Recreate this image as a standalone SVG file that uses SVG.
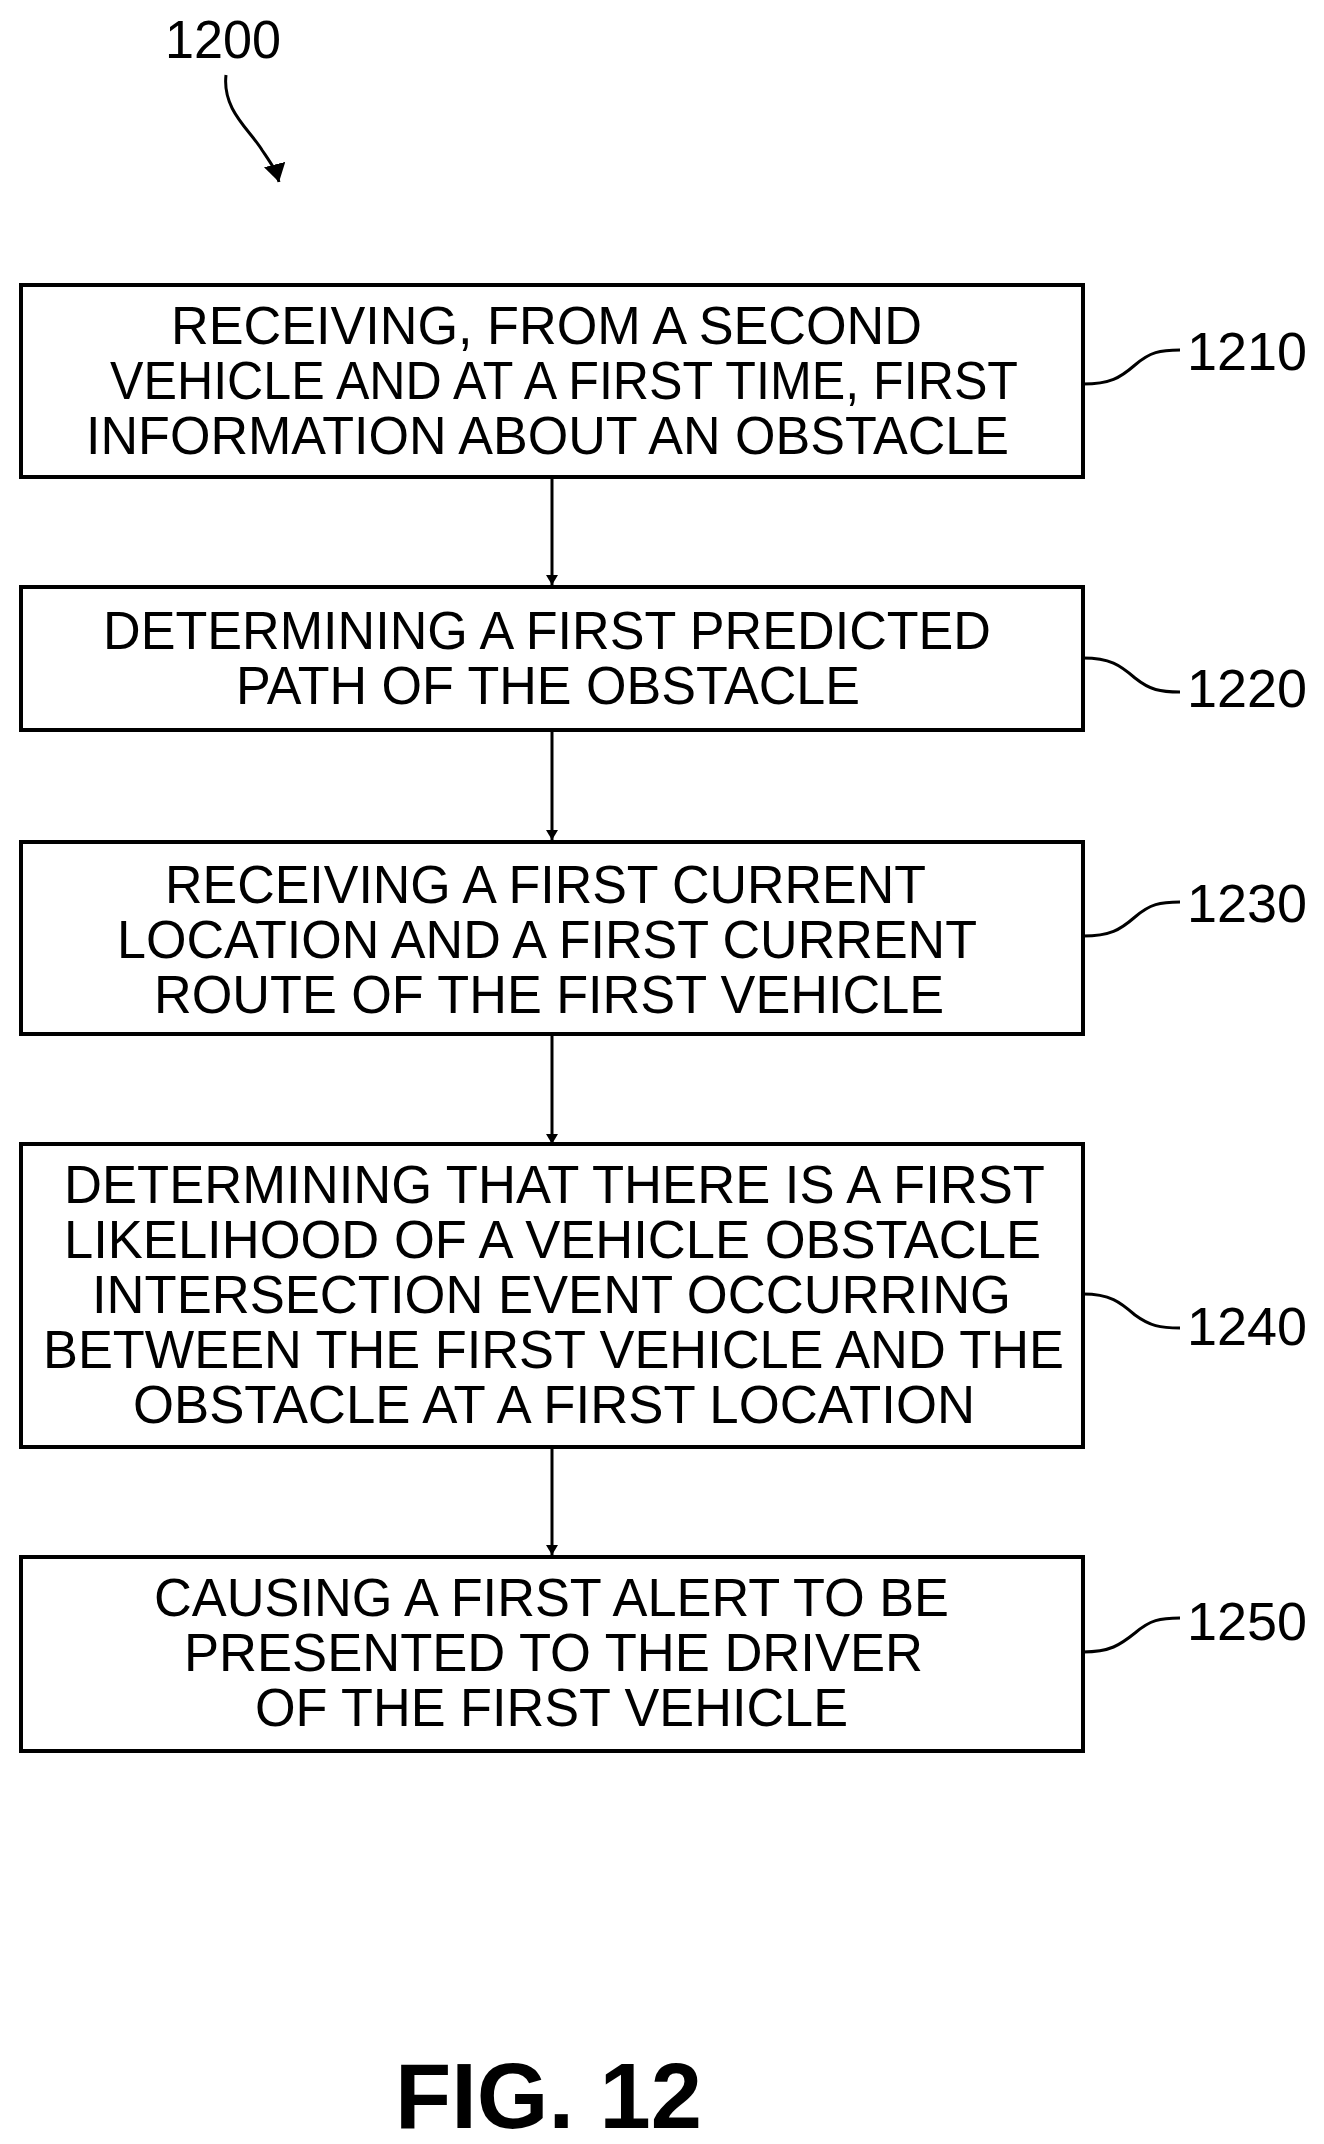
<svg xmlns="http://www.w3.org/2000/svg" width="1324" height="2144" viewBox="0 0 1324 2144">
<style>
.box{fill:#fff;stroke:#000;stroke-width:4}
.t{font-family:"Liberation Sans",Arial,sans-serif;font-size:54px;fill:#000}
.lead{fill:none;stroke:#000;stroke-width:3}
.con{stroke:#000;stroke-width:3;fill:none;marker-end:url(#ah)}
</style>
<defs>
<marker id="ah" markerWidth="10" markerHeight="12" refX="10" refY="6" orient="auto" markerUnits="userSpaceOnUse" viewBox="0 0 10 12"><path d="M0,0 L10,6 L0,12 Z" fill="#000"/></marker>
<marker id="ah2" markerWidth="18" markerHeight="22" refX="18" refY="11" orient="auto" markerUnits="userSpaceOnUse" viewBox="0 0 18 22"><path d="M0,0 L18,11 L0,22 Z" fill="#000"/></marker>
</defs>
<rect width="1324" height="2144" fill="#fff"/>
<g id="ref1200">
<text class="t" x="165" y="58" textLength="116" lengthAdjust="spacingAndGlyphs">1200</text>
<path class="lead" d="M226,75 C222,110 250,130 262,150 C272,165 276,170 279,182" marker-end="url(#ah2)"/>
</g>
<g id="connectors">
<line class="con" x1="552" y1="477" x2="552" y2="585" marker-end="url(#ah2)"/>
<line class="con" x1="552" y1="730" x2="552" y2="840" marker-end="url(#ah2)"/>
<line class="con" x1="552" y1="1034" x2="552" y2="1144" marker-end="url(#ah2)"/>
<line class="con" x1="552" y1="1447" x2="552" y2="1555" marker-end="url(#ah2)"/>
</g>
<g id="n1210">
<rect class="box" x="21" y="285" width="1062" height="192"/>
<text class="t" x="171" y="344" textLength="751" lengthAdjust="spacingAndGlyphs">RECEIVING, FROM A SECOND</text>
<text class="t" x="110" y="399" textLength="908" lengthAdjust="spacingAndGlyphs">VEHICLE AND AT A FIRST TIME, FIRST</text>
<text class="t" x="86" y="454" textLength="923" lengthAdjust="spacingAndGlyphs">INFORMATION ABOUT AN OBSTACLE</text>
<path class="lead" d="M1083,384 C1110,384 1120,378 1135,365 C1150,352 1160,350 1180,350"/>
<text class="t" x="1187" y="370" textLength="120" lengthAdjust="spacingAndGlyphs">1210</text>
</g>
<g id="n1220">
<rect class="box" x="21" y="587" width="1062" height="143"/>
<text class="t" x="103" y="649" textLength="888" lengthAdjust="spacingAndGlyphs">DETERMINING A FIRST PREDICTED</text>
<text class="t" x="236" y="704" textLength="624" lengthAdjust="spacingAndGlyphs">PATH OF THE OBSTACLE</text>
<path class="lead" d="M1083,658 C1110,658 1120,665 1135,678 C1150,690 1160,692 1180,692"/>
<text class="t" x="1187" y="707" textLength="120" lengthAdjust="spacingAndGlyphs">1220</text>
</g>
<g id="n1230">
<rect class="box" x="21" y="842" width="1062" height="192"/>
<text class="t" x="165" y="903" textLength="761" lengthAdjust="spacingAndGlyphs">RECEIVING A FIRST CURRENT</text>
<text class="t" x="117" y="958" textLength="860" lengthAdjust="spacingAndGlyphs">LOCATION AND A FIRST CURRENT</text>
<text class="t" x="154" y="1013" textLength="790" lengthAdjust="spacingAndGlyphs">ROUTE OF THE FIRST VEHICLE</text>
<path class="lead" d="M1083,936 C1110,936 1120,930 1135,917 C1150,904 1160,902 1180,902"/>
<text class="t" x="1187" y="922" textLength="120" lengthAdjust="spacingAndGlyphs">1230</text>
</g>
<g id="n1240">
<rect class="box" x="21" y="1144" width="1062" height="303"/>
<text class="t" x="64" y="1203" textLength="981" lengthAdjust="spacingAndGlyphs">DETERMINING THAT THERE IS A FIRST</text>
<text class="t" x="64" y="1258" textLength="977" lengthAdjust="spacingAndGlyphs">LIKELIHOOD OF A VEHICLE OBSTACLE</text>
<text class="t" x="92" y="1313" textLength="919" lengthAdjust="spacingAndGlyphs">INTERSECTION EVENT OCCURRING</text>
<text class="t" x="43" y="1368" textLength="1021" lengthAdjust="spacingAndGlyphs">BETWEEN THE FIRST VEHICLE AND THE</text>
<text class="t" x="133" y="1423" textLength="842" lengthAdjust="spacingAndGlyphs">OBSTACLE AT A FIRST LOCATION</text>
<path class="lead" d="M1083,1294 C1110,1294 1120,1302 1135,1315 C1150,1326 1160,1328 1180,1328"/>
<text class="t" x="1187" y="1345" textLength="120" lengthAdjust="spacingAndGlyphs">1240</text>
</g>
<g id="n1250">
<rect class="box" x="21" y="1557" width="1062" height="194"/>
<text class="t" x="154" y="1616" textLength="795" lengthAdjust="spacingAndGlyphs">CAUSING A FIRST ALERT TO BE</text>
<text class="t" x="184" y="1671" textLength="739" lengthAdjust="spacingAndGlyphs">PRESENTED TO THE DRIVER</text>
<text class="t" x="255" y="1726" textLength="593" lengthAdjust="spacingAndGlyphs">OF THE FIRST VEHICLE</text>
<path class="lead" d="M1083,1652 C1110,1652 1120,1645 1135,1633 C1150,1620 1160,1618 1180,1618"/>
<text class="t" x="1187" y="1640" textLength="120" lengthAdjust="spacingAndGlyphs">1250</text>
</g>
<text x="395" y="2128" font-family="Liberation Sans,Arial,sans-serif" font-weight="bold" font-size="92" textLength="307" lengthAdjust="spacingAndGlyphs">FIG. 12</text>
</svg>
